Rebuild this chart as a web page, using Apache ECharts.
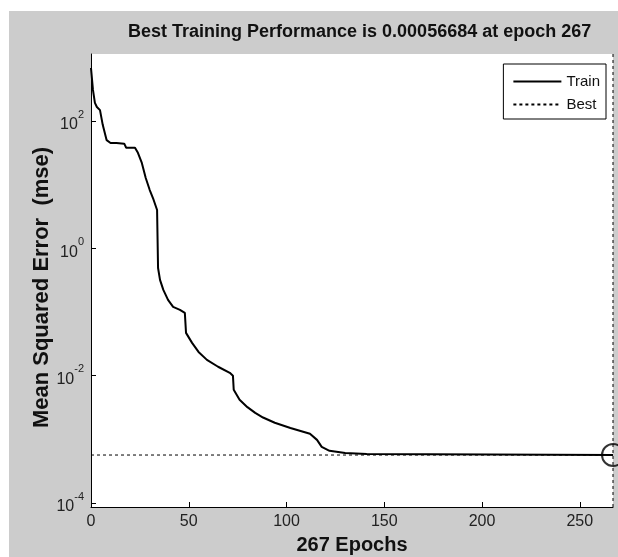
<!DOCTYPE html>
<html>
<head>
<meta charset="utf-8">
<script src="https://cdn.jsdelivr.net/npm/echarts@6/dist/echarts.min.js"></script>
<style>
html,body{margin:0;padding:0;background:#fff;}
#chart{position:absolute;left:9px;top:11px;width:609px;height:546px;}
</style>
</head>
<body>
<div id="chart"></div>
<script>
// training record
var epochs = [0, 1, 2, 3, 4.6, 6, 8, 10, 13, 17, 18, 22.5, 24, 26, 28, 30, 32, 33.8, 34.3, 35.3,
  37, 39.4, 42, 45.5, 48, 48.6, 51.7, 55, 59.3, 65, 71, 72.6, 73, 76, 80, 84, 88, 94, 102, 112,
  115.6, 118, 122, 130, 141, 267];
var mse = [680, 307, 192, 166, 148, 87, 50, 45, 45, 44, 38, 38, 31.6, 21.9, 12.7, 8.3, 5.8, 4.0, 0.49, 0.32,
  0.222, 0.155, 0.12, 0.108, 0.097, 0.047, 0.0327, 0.0236, 0.0177, 0.0138, 0.0111, 0.010, 0.006, 0.00418, 0.0032, 0.0026, 0.0022, 0.00182, 0.00151, 0.00122,
  0.00098, 0.00076, 0.00066, 0.00061, 0.00059, 0.00056684];
var bestEpoch = 267;
var bestPerf = 0.00056684;
var yMin = 8.65e-5, yMax = 1127;
var xMax = 267;
var yTicks = [1e-4, 1e-2, 1, 100];

var font = '"Liberation Sans", Arial, sans-serif';

var trainData = epochs.map(function (e, i) { return [e, mse[i]]; });

var chart = echarts.init(document.getElementById('chart'));
var option = {
  backgroundColor: '#cccccc',
  animation: false,
  title: {
    text: 'Best Training Performance is ' + bestPerf + ' at epoch ' + bestEpoch,
    left: 119,
    top: 12,
    padding: 0,
    textStyle: {fontFamily: font, fontSize: 18, fontWeight: 'bold', color: '#111'}
  },
  legend: {
    data: ['Train', 'Best'],
    orient: 'vertical',
    right: 12,
    top: 53,
    padding: [10, 6, 7, 9],
    itemGap: 8,
    itemWidth: 48,
    itemHeight: 16,
    backgroundColor: '#fff',
    borderColor: '#000',
    borderWidth: 1,
    borderRadius: 0,
    itemStyle: {opacity: 0},
    textStyle: {fontFamily: font, fontSize: 15, color: '#111'}
  },
  grid: {
    left: 82, top: 43, right: 5, bottom: 50,
    outerBoundsMode: 'none',
    show: true, backgroundColor: '#fff', borderWidth: 0
  },
  xAxis: {
    type: 'value',
    min: 0,
    max: xMax,
    interval: 50,
    name: bestEpoch + ' Epochs',
    nameLocation: 'middle',
    nameGap: 28,
    nameTextStyle: {fontFamily: font, fontSize: 20, fontWeight: 'bold', color: '#111'},
    axisLine: {onZero: false, lineStyle: {color: '#000', width: 1}},
    axisTick: {inside: true, length: 5, lineStyle: {color: '#000'}},
    axisLabel: {
      margin: 7, fontFamily: font, fontSize: 16, color: '#222',
      showMaxLabel: false
    },
    splitLine: {show: false}
  },
  yAxis: {
    type: 'log',
    min: yMin,
    max: yMax,
    name: 'Mean Squared Error  (mse)',
    nameLocation: 'middle',
    nameGap: 38,
    nameMoveOverlap: false,
    nameTextStyle: {fontFamily: font, fontSize: 22, fontWeight: 'bold', color: '#111', padding: [0, 14, 0, 0]},
    axisLine: {show: true, lineStyle: {color: '#000', width: 1}},
    axisTick: {inside: true, length: 5, lineStyle: {color: '#000'}, customValues: yTicks},
    axisLabel: {
      margin: 7,
      color: '#222',
      fontFamily: font,
      fontSize: 16,
      customValues: yTicks,
      formatter: function (v) {
        return '{b|10}{s|' + Math.round(Math.log10(v)) + '}';
      },
      rich: {
        b: {fontFamily: font, fontSize: 16, color: '#222', verticalAlign: 'bottom', lineHeight: 24},
        s: {fontFamily: font, fontSize: 11, color: '#222', verticalAlign: 'top', lineHeight: 24}
      }
    },
    splitLine: {show: false}
  },
  series: [
    {
      name: 'Train',
      type: 'line',
      data: trainData,
      symbol: 'none',
      lineStyle: {color: '#000', width: 2},
      itemStyle: {color: '#000'},
      z: 3
    },
    {
      name: 'Best',
      type: 'line',
      data: [[0, bestPerf], [bestEpoch, bestPerf]],
      symbol: 'none',
      lineStyle: {color: '#000', width: 1, type: [3, 3]},
      itemStyle: {color: '#000'},
      z: 2
    },
    {
      name: 'Best',
      type: 'line',
      data: [[bestEpoch, yMin], [bestEpoch, yMax]],
      symbol: 'none',
      clip: false,
      lineStyle: {color: '#000', width: 1, type: [3, 3]},
      itemStyle: {color: '#000'},
      z: 2
    },
    {
      name: 'bestMark',
      type: 'scatter',
      data: [[bestEpoch, bestPerf]],
      symbol: 'circle',
      symbolSize: 22,
      clip: false,
      itemStyle: {color: 'rgba(0,0,0,0)', borderColor: '#000', borderWidth: 2},
      z: 4
    }
  ]
};
chart.setOption(option);
</script>
</body>
</html>
